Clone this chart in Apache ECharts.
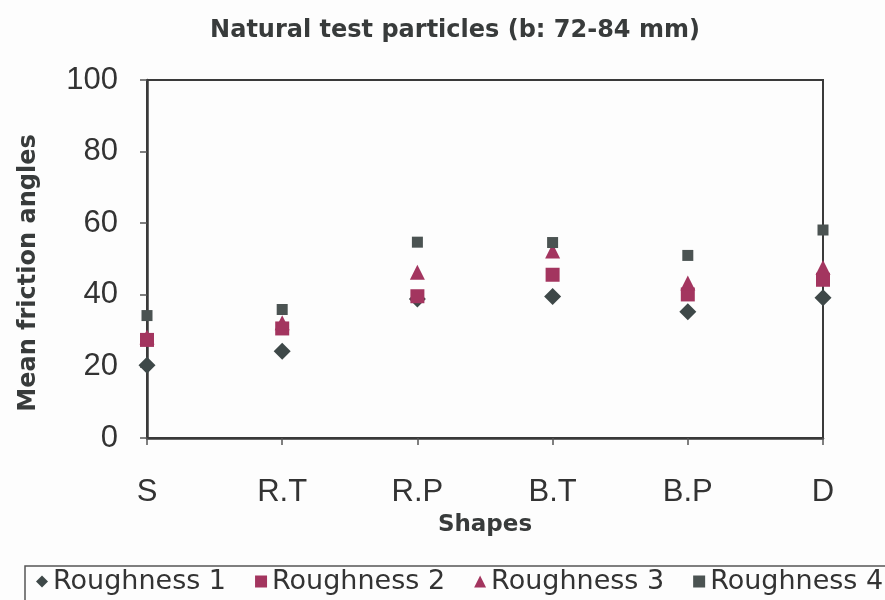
<!DOCTYPE html>
<html>
<head>
<meta charset="utf-8">
<script src="https://cdn.jsdelivr.net/npm/echarts@6/dist/echarts.min.js"></script>
<style>
  html, body { margin: 0; padding: 0; background: #fdfdfd; }
  #chart { width: 885px; height: 600px; }
</style>
</head>
<body>
<div id="chart"></div>
<script>
// Shape classes along the x axis
const shapes = ['S', 'R.T', 'R.P', 'B.T', 'B.P', 'D'];

// Mean friction angles per roughness class
const roughness1 = [20.3, 24.2, 38.8, 39.5, 35.3, 39.2];
const roughness2 = [27.4, 30.6, 39.6, 45.6, 40.1, 44.2];
const roughness3 = [28.2, 32.2, 46.3, 52.2, 43.3, 47.6];
const roughness4 = [34.2, 35.9, 54.7, 54.6, 51.0, 58.1];

const yTicks = [0, 20, 40, 60, 80, 100];

const wide = '"DejaVu Sans", sans-serif';
const plain = '"Liberation Sans", Arial, sans-serif';
const ink = '#383b3b';
const dark = '#3e4848';
const rose = '#a3355f';
const grey = '#4b5352';

function scatterSeries(name, data, symbol, size, color) {
  return {
    name: name,
    type: 'scatter',
    data: data,
    symbol: symbol,
    symbolSize: size,
    itemStyle: { color: color, opacity: 1 },
    emphasis: { disabled: true }
  };
}

const chart = echarts.init(document.getElementById('chart'), null, { renderer: 'canvas' });
chart.setOption({
  backgroundColor: '#fdfdfd',
  animation: false,
  title: {
    text: 'Natural test particles (b: 72-84 mm)',
    left: 450,
    textAlign: 'center',
    top: 14,
    textStyle: { fontFamily: wide, fontWeight: 'bold', fontSize: 24, color: ink }
  },
  grid: {
    left: 147, right: 62, top: 80, bottom: 162,
    show: true, borderColor: '#3a3a3a', borderWidth: 2, backgroundColor: 'transparent'
  },
  xAxis: {
    type: 'category',
    data: shapes,
    boundaryGap: false,
    name: 'Shapes',
    nameLocation: 'middle',
    nameGap: 76,
    nameTextStyle: { fontFamily: wide, fontWeight: 'bold', fontSize: 23, color: ink },
    axisLine: { lineStyle: { color: '#3a3a3a', width: 2.5 } },
    axisTick: { show: true, alignWithLabel: true, length: 7, lineStyle: { color: '#555', width: 1.5 } },
    axisLabel: { fontFamily: plain, fontSize: 31, color: '#333', margin: 39 },
    splitLine: { show: false }
  },
  yAxis: {
    type: 'value',
    min: yTicks[0],
    max: yTicks[yTicks.length - 1],
    interval: 20,
    name: 'Mean friction angles',
    nameLocation: 'middle',
    nameGap: 106,
    nameTextStyle: { fontFamily: wide, fontWeight: 'bold', fontSize: 24, color: ink, padding: [0, 28, 0, 0] },
    axisLine: { show: true, lineStyle: { color: '#3a3a3a', width: 2.5 } },
    axisTick: { show: true, length: 7, lineStyle: { color: '#555', width: 1.5 } },
    axisLabel: { fontFamily: plain, fontSize: 31, color: '#333', margin: 29 },
    splitLine: { show: false }
  },
  legend: {
    left: 25,
    top: 566,
    width: 1000,
    orient: 'horizontal',
    itemGap: 29,
    itemWidth: 12,
    itemHeight: 12,
    padding: [2, 30, 6, 11],
    borderColor: '#555',
    borderWidth: 1.5,
    backgroundColor: '#fdfdfd',
    textStyle: { fontFamily: wide, fontSize: 27, color: '#333' },
    data: [
      { name: 'Roughness 1', icon: 'diamond' },
      { name: 'Roughness 2', icon: 'rect' },
      { name: 'Roughness 3', icon: 'triangle' },
      { name: 'Roughness 4', icon: 'rect' }
    ]
  },
  series: [
    scatterSeries('Roughness 1', roughness1, 'diamond', 17, dark),
    scatterSeries('Roughness 2', roughness2, 'rect', 14, rose),
    scatterSeries('Roughness 3', roughness3, 'triangle', 15, rose),
    scatterSeries('Roughness 4', roughness4, 'rect', 11, grey)
  ]
});
</script>
</body>
</html>
